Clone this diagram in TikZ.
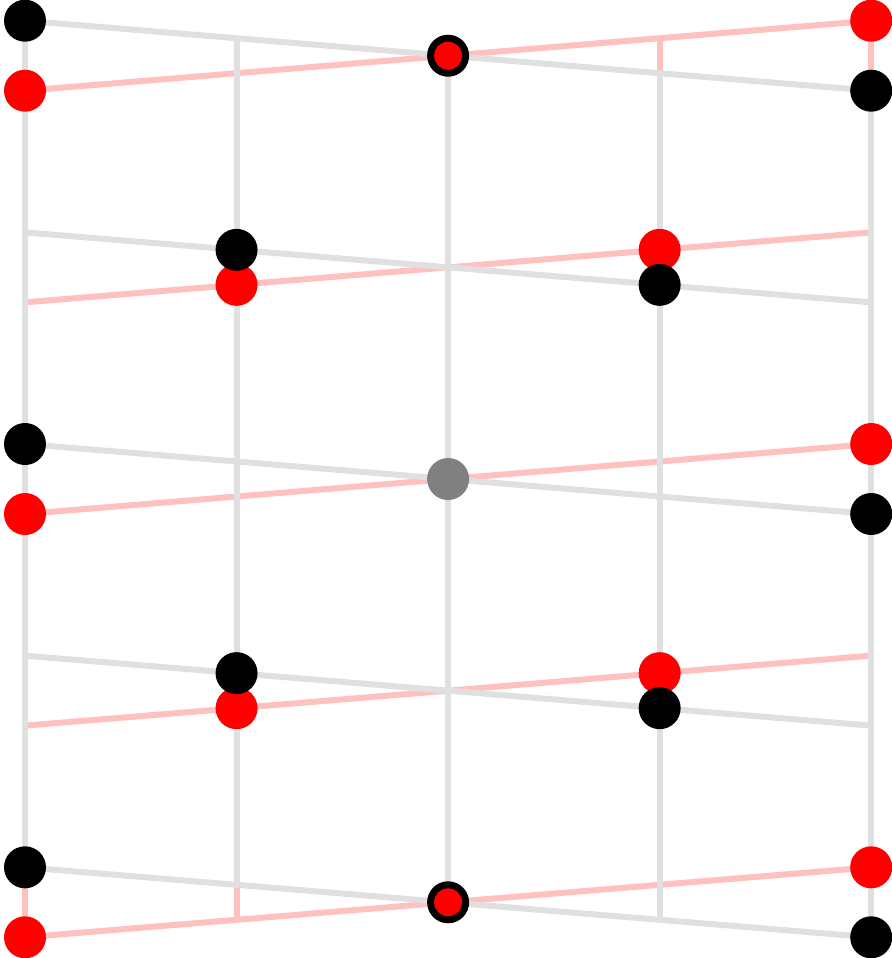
\documentclass[tikz,border=0pt]{standalone}
\usetikzlibrary{positioning}
\definecolor{meshgray}{RGB}{224,224,224}
\definecolor{meshpink}{RGB}{255,192,192}
\tikzset{
  grayedge/.style={draw=meshgray,line width=0.12cm},
  pinkedge/.style={draw=meshpink,line width=0.12cm},
  blackdot/.style={circle,fill=black,inner sep=0pt,minimum size=0.84cm},
  reddot/.style={circle,fill=red,inner sep=0pt,minimum size=0.84cm},
  innerdot/.style={circle,fill=red,inner sep=0pt,minimum size=0.56cm},
  fixdot/.style={circle,fill=gray,inner sep=0pt,minimum size=0.84cm}
}
\begin{document}
\begin{tikzpicture}[x=0.02cm,y=-0.02cm]
  \useasboundingbox (0,0) rectangle (892,958);
  % sheared grid points of both meshes
  \foreach \i in {0,...,4}{
    \foreach \j in {0,...,4}{
      \coordinate (b-\i-\j) at ({25+211.55*\i},{20.7+211.65*\j+17.5*\i});
      \coordinate (r-\i-\j) at ({25+211.55*\i},{20.7+211.65*\j+17.5*(4-\i)});
    }
  }
  % red mesh
  \foreach \k in {0,...,4}{
    \draw[pinkedge] (r-0-\k) -- (r-4-\k);
    \draw[pinkedge] (r-\k-0) -- (r-\k-4);
  }
  % black mesh
  \foreach \k in {0,...,4}{
    \draw[grayedge] (b-0-\k) -- (b-4-\k);
    \draw[grayedge] (b-\k-0) -- (b-\k-4);
  }
  % nodes
  \foreach \i/\j in {0/0,0/2,0/4,1/1,1/3,3/1,3/3,4/0,4/2,4/4}{
    \node[reddot] (rn-\i-\j) at (r-\i-\j) {};
    \node[blackdot] (bn-\i-\j) at (b-\i-\j) {};
  }
  \node[blackdot] (bn-2-0) at (b-2-0) {};
  \node[innerdot] (rn-2-0) at (r-2-0) {};
  \node[blackdot] (bn-2-4) at (b-2-4) {};
  \node[innerdot] (rn-2-4) at (r-2-4) {};
  \node[fixdot] (fix) at (b-2-2) {};
\end{tikzpicture}
\end{document}
